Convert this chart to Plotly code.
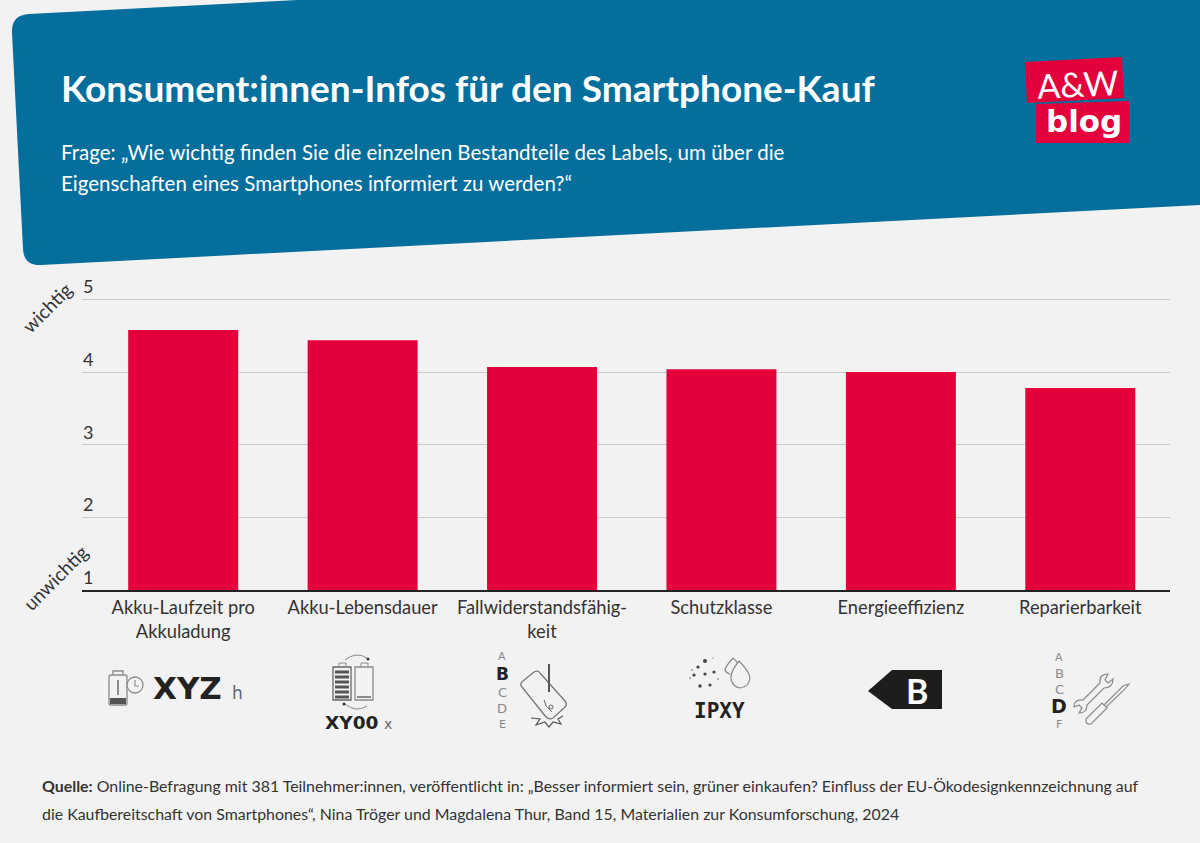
import re

import plotly.graph_objects as go

W = 1200
H = 843

categories = ["Akku-Laufzeit pro<br>Akkuladung", "Akku-Lebensdauer", "Fallwiderstandsfähig-<br>keit",
              "Schutzklasse", "Energieeffizienz", "Reparierbarkeit"]
values = [4.58, 4.44, 4.07, 4.04, 4.0, 3.78]
y_ticks = [1, 2, 3, 4, 5]

BLUE = "#046e9c"
RED = "#e4003a"
BG = "#f2f2f2"
DARK = "#333333"
ICON = "#8a8a8a"
BODY_FONT = "Lato"
ICON_FONT = "DejaVu Sans"


# everything outside the plot is placed in page pixels
def fx(px):
    return px / W


def fy(py):
    return 1 - py / H


shapes = []
notes = []


def svg(d, fill=None, line=None, width=1, layer="above"):
    # d is an svg path in page pixels, gets converted to paper coordinates
    def convert(m):
        return f"{fx(float(m.group(1))):.5f},{fy(float(m.group(2))):.5f}"

    shapes.append(dict(type="path", xref="paper", yref="paper", layer=layer,
                       path=re.sub(r"([\d.]+) ([\d.]+)", convert, d),
                       fillcolor=fill if fill else "rgba(0,0,0,0)",
                       line=dict(color=line if line else "rgba(0,0,0,0)", width=width)))


def circle(cx, cy, r, fill=None, line=None, width=1):
    shapes.append(dict(type="circle", xref="paper", yref="paper",
                       x0=fx(cx - r), x1=fx(cx + r), y0=fy(cy + r), y1=fy(cy - r),
                       fillcolor=fill if fill else "rgba(0,0,0,0)",
                       line=dict(color=line if line else "rgba(0,0,0,0)", width=width)))


def text(x, y, s, size, color=DARK, family=BODY_FONT, anchor="left", angle=0):
    notes.append(dict(xref="paper", yref="paper", x=fx(x), y=fy(y), text=s, showarrow=False,
                      xanchor=anchor, yanchor="middle", textangle=angle, align="left",
                      borderpad=0, borderwidth=0,
                      font=dict(size=size, color=color, family=family)))


# header band, slightly tilted with round corners on the left
svg("M12 33 Q11 15 29 14 L297 0 L1200 0 L1200 205 L41 265 Q24 266 23 249 Z", fill=BLUE, layer="below")

text(61, 87, "<b>Konsument:innen-Infos für den Smartphone-Kauf</b>", 37, "white")
text(61, 152, "Frage: „Wie wichtig finden Sie die einzelnen Bestandteile des Labels, um über die", 20.5, "white")
text(61, 183, "Eigenschaften eines Smartphones informiert zu werden?“", 20.5, "white")

# logo
svg("M1025 62 L1122 57 L1124 98 L1027 103 Z", fill=RED)
svg("M1036 104 L1129 101 L1129 143 L1036 143 Z", fill=RED)
text(1077, 83, "A&W", 34, "white", BODY_FONT, "center", -3)
text(1083.5, 121, "<b>blog</b>", 31, "white", ICON_FONT, "center")

# side labels
text(47, 308, "wichtig", 19, DARK, BODY_FONT, "center", -45)
text(55, 577, "unwichtig", 19, DARK, BODY_FONT, "center", -45)

# y tick labels sit above their gridlines, the 5 would get dropped as an inside axis label
for tick in y_ticks:
    notes.append(dict(xref="paper", yref="y", x=fx(83), y=tick, yshift=13, text=str(tick), showarrow=False,
                      xanchor="left", yanchor="middle", borderpad=0, borderwidth=0,
                      font=dict(size=18, color=DARK, family=BODY_FONT)))

# icon 1: battery runtime
svg("M109 677 Q109 675 111 675 L125 675 Q127 675 127 677 L127 703 Q127 705 125 705 L111 705 Q109 705 109 703 Z",
    line=ICON, width=1.3)
svg("M113 675 L113 671 L123 671 L123 675", line=ICON, width=1.3)
svg("M110 698 L126 698 L126 704 L110 704 Z", fill="#555555")
svg("M118 680 L118 695", line="#555555", width=1.3)
circle(135, 685, 8, fill=BG, line=ICON, width=1.3)
svg("M135 680 L135 686 L139 686", line=ICON, width=1.1)
text(153, 688, "<b>XYZ</b>", 31, "#222222", ICON_FONT)
text(232, 693, "h", 17, "#666666", ICON_FONT)

# icon 2: battery lifetime
svg("M333 667 L351 667 L351 700 L333 700 Z", line="#666666", width=1.3)
svg("M355 667 L373 667 L373 700 L355 700 Z", line=ICON, width=1.3)
svg("M339 667 L339 663 L346 663 L346 667", line=ICON)
svg("M361 667 L361 663 L368 663 L368 667", line=ICON)
for bar_y in [672, 677, 682, 687, 692, 697]:
    svg(f"M335 {bar_y} L349 {bar_y}", line="#555555", width=3)
svg("M357 697 L371 697", line=ICON, width=2)
svg("M345 660 Q356 651 367 658", line=ICON)
svg("M345 704 Q356 713 367 706", line=ICON)
circle(368, 659, 1.5, fill="#333333")
circle(344, 704, 1.5, fill="#333333")
text(351, 722, "<b>XY00</b>", 18.5, "#222222", ICON_FONT, "center")
text(388, 724, "x", 14, "#666666", ICON_FONT, "center")

# icon 3: drop resistance
for letter, letter_y, size, color in [("A", 656, 11, ICON), ("<b>B</b>", 674, 17, "#222222"),
                                      ("C", 692, 13, ICON), ("D", 708, 13, ICON), ("E", 724, 11, ICON)]:
    text(502, letter_y, letter, size, color, ICON_FONT, "center")
svg("M522 687 Q519 684 523 681 L534 672 Q538 670 540 673 L565 701 Q568 705 564 708 L553 718 Q549 720 546 717 Z",
    fill=BG, line="#777777", width=1.3)
svg("M549 664 L549 692", line="#555555", width=2)
svg("M544 700 Q545 707 552 712", line="#666666")
circle(551, 707, 2, line="#666666")
svg("M531 718 L540 719 L536 725 L545 722 L549 727 L553 722 L561 724 L558 719 L563 716", line="#555555", width=1.2)

# icon 4: protection class
dust_x = [705, 698, 694, 705, 714, 700, 710, 690, 718, 713, 692]
dust_y = [661, 667, 675, 674, 672, 686, 685, 678, 679, 658, 670]
dust_r = [2, 1.6, 1.6, 1.6, 1.6, 1.7, 1.6, 0.7, 0.7, 0.6, 0.7]
for dx, dy, dr in zip(dust_x, dust_y, dust_r):
    circle(dx, dy, dr, fill="#444444")
svg("M733 658 Q725 667 725 670 Q726 673 730 674", line=ICON, width=1.2)
svg("M733 658 Q736 660 738 664", line=ICON, width=1.2)
svg("M739 661 Q730 672 731 679 Q733 687 740 688 Q749 687 750 678 Q749 671 739 661 Z", fill=BG, line=ICON, width=1.2)
text(719.5, 711, "<b>IPXY</b>", 21, "#222222", "DejaVu Sans Mono", "center")

# icon 5: energy class tag
svg("M868 691 L892 670 L942 670 L942 709 L892 709 Z", fill="#1d1d1b")
text(917, 690, "<b>B</b>", 34, "white", BODY_FONT, "center")

# icon 6: repairability
for letter, letter_y, size, color in [("A", 657, 11, ICON), ("B", 673, 13, ICON), ("C", 689, 13, ICON),
                                      ("<b>D</b>", 706, 19, "#222222"), ("F", 724, 11, ICON)]:
    text(1059, letter_y, letter, size, color, ICON_FONT, "center")
svg("M1108 674 Q1099 674 1100 683 L1083 700 Q1074 699 1074 707 L1079 705 L1082 708 L1079 713 "
    "Q1087 713 1087 705 L1104 688 Q1113 688 1113 679 L1108 683 L1105 680 Z", line=ICON, width=1.2)
svg("M1086 719 L1102 703 L1107 708 L1091 724 Q1085 725 1086 719 Z", line=ICON, width=1.2)
svg("M1104 705 L1123 686 L1129 684 L1125 689 L1106 707", line=ICON, width=1.1)

# source
text(42, 785, "<b>Quelle:</b> Online-Befragung mit 381 Teilnehmer:innen, veröffentlicht in: „Besser informiert sein, grüner einkaufen? Einfluss der EU-Ökodesignkennzeichnung auf", 15.9)
text(42, 813, "die Kaufbereitschaft von Smartphones“, Nina Tröger und Magdalena Thur, Band 15, Materialien zur Konsumforschung, 2024", 15.9)

fig = go.Figure()
fig.add_trace(go.Bar(x=categories, y=values, width=0.613, marker=dict(color=RED, line=dict(width=0)),
                     hoverinfo="x+y", showlegend=False))

fig.update_layout(
    width=W,
    height=H,
    autosize=False,
    margin=dict(l=0, r=0, t=0, b=0),
    paper_bgcolor=BG,
    plot_bgcolor=BG,
    font=dict(family=BODY_FONT, color=DARK),
    shapes=shapes,
    annotations=notes,
    xaxis=dict(domain=[fx(82), fx(1170)], range=[-0.564, 5.5], type="category", showgrid=False, zeroline=False,
               showline=True, linecolor="#222222", linewidth=2, ticks="", tickangle=0,
               tickfont=dict(size=18.3, color=DARK, family=BODY_FONT)),
    # top of the range a bit over 5, plotly drops a gridline sitting right on the edge
    yaxis=dict(domain=[fy(590), fy(298)], range=[1, 5.02], tickvals=y_ticks, showticklabels=False, showgrid=True,
               gridcolor="#cccccc", gridwidth=1, zeroline=False, showline=False, ticks=""),
)

# page has a default body margin, drop it so the pixel layout holds
fig.write_html("out.html", post_script="document.body.style.margin='0';", config={"displayModeBar": False})
